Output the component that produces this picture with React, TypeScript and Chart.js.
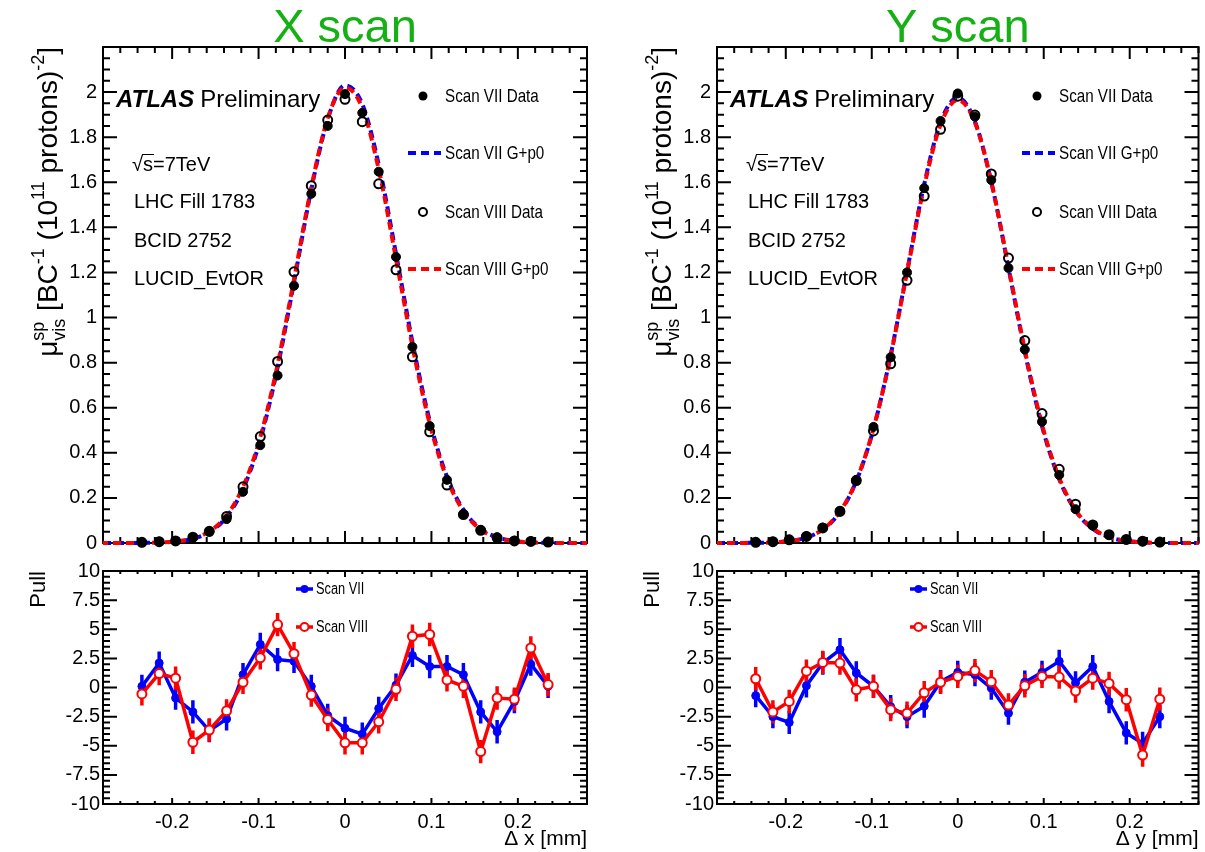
import React, { useEffect, useRef } from 'react';
import { Chart, registerables } from 'chart.js';

Chart.register(...registerables);

// ---------------- data ----------------
const SCAN_POS = [-0.235, -0.215, -0.196, -0.176, -0.157, -0.137, -0.118, -0.098, -0.078, -0.059, -0.039, -0.020, 0, 0.020, 0.039, 0.059, 0.078, 0.098, 0.118, 0.137, 0.157, 0.176, 0.196, 0.215, 0.235];

const X7_MU = [0.003, 0.006, 0.009, 0.024, 0.050, 0.106, 0.227, 0.434, 0.743, 1.141, 1.549, 1.850, 1.991, 1.908, 1.647, 1.269, 0.870, 0.519, 0.280, 0.128, 0.058, 0.025, 0.010, 0.008, 0.004];
const X8_MU = [0.003, 0.006, 0.009, 0.026, 0.052, 0.118, 0.249, 0.472, 0.805, 1.203, 1.585, 1.876, 1.968, 1.869, 1.593, 1.212, 0.826, 0.493, 0.257, 0.126, 0.056, 0.023, 0.009, 0.007, 0.004];
const Y7_MU = [0.003, 0.006, 0.015, 0.030, 0.068, 0.143, 0.280, 0.515, 0.824, 1.200, 1.574, 1.872, 1.994, 1.891, 1.610, 1.220, 0.858, 0.538, 0.302, 0.150, 0.077, 0.035, 0.015, 0.007, 0.003];
const Y8_MU = [0.003, 0.006, 0.014, 0.029, 0.067, 0.140, 0.277, 0.497, 0.795, 1.165, 1.539, 1.835, 1.982, 1.898, 1.637, 1.264, 0.898, 0.574, 0.327, 0.172, 0.080, 0.037, 0.016, 0.008, 0.004];

const FIT_POS = [-0.28, -0.26, -0.24, -0.22, -0.20, -0.18, -0.16, -0.14, -0.12, -0.10, -0.08, -0.06, -0.04, -0.02, 0, 0.02, 0.04, 0.06, 0.08, 0.10, 0.12, 0.14, 0.16, 0.18, 0.20, 0.22, 0.24, 0.26, 0.28];
const X7_FIT = [0, 0, 0.0005, 0.0015, 0.005, 0.015, 0.042, 0.102, 0.223, 0.431, 0.742, 1.136, 1.549, 1.879, 2.030, 1.947, 1.662, 1.263, 0.853, 0.513, 0.275, 0.131, 0.055, 0.021, 0.007, 0.002, 0.0005, 0, 0];
const X8_FIT = [0, 0, 0.0005, 0.0016, 0.0055, 0.016, 0.045, 0.108, 0.232, 0.443, 0.755, 1.148, 1.558, 1.884, 2.020, 1.930, 1.640, 1.240, 0.835, 0.500, 0.266, 0.126, 0.052, 0.019, 0.006, 0.0017, 0.0004, 0, 0];
const Y7_FIT = [0, 0, 0.0006, 0.002, 0.0068, 0.020, 0.052, 0.122, 0.256, 0.478, 0.797, 1.185, 1.574, 1.866, 1.975, 1.870, 1.585, 1.200, 0.812, 0.490, 0.265, 0.127, 0.055, 0.021, 0.007, 0.002, 0.0006, 0, 0];
const Y8_FIT = [0, 0, 0.0006, 0.002, 0.007, 0.020, 0.053, 0.124, 0.258, 0.480, 0.795, 1.180, 1.565, 1.855, 1.965, 1.865, 1.585, 1.205, 0.820, 0.497, 0.270, 0.130, 0.057, 0.022, 0.007, 0.002, 0.0006, 0, 0];

const X7_PULL = [0.1, 2.1, -0.9, -2.1, -3.7, -2.7, 1.1, 3.7, 2.4, 2.25, 0.1, -2.4, -3.5, -4.0, -1.8, 0.2, 2.75, 1.8, 1.8, 1.1, -2.1, -3.8, -1.2, 2.0, 0.1];
const X8_PULL = [-0.55, 1.2, 0.8, -4.7, -3.65, -2.0, 0.45, 2.55, 5.4, 2.9, -0.65, -2.75, -4.75, -4.75, -2.95, -0.15, 4.4, 4.55, 0.65, 0.1, -5.5, -0.9, -1.0, 3.4, 0.25];
const Y7_PULL = [-0.7, -2.5, -3.0, 0.15, 2.1, 3.25, 1.25, 0.1, -1.65, -2.5, -1.6, 0.5, 1.3, 1.1, -0.05, -2.2, 0.45, 1.3, 2.25, 0.4, 1.8, -1.2, -3.9, -4.8, -2.5];
const Y8_PULL = [0.75, -2.1, -1.2, 1.4, 2.15, 2.1, -0.2, 0.1, -1.9, -2.2, -0.45, 0.45, 0.95, 1.45, 0.5, -1.5, 0.15, 0.95, 0.9, -0.3, 0.8, 0.35, -1.05, -5.8, -1.0];
const PULL_ERR = 1;

const X_TICKS = [-0.2, -0.1, 0, 0.1, 0.2];
const MAIN_Y_TICKS = [0, 0.2, 0.4, 0.6, 0.8, 1, 1.2, 1.4, 1.6, 1.8, 2];
const PULL_Y_TICKS = [-10, -7.5, -5, -2.5, 0, 2.5, 5, 7.5, 10];

const INFO_LINES = ['LHC Fill 1783', 'BCID 2752', 'LUCID_EvtOR'];
const MAIN_LEGEND = ['Scan VII Data', 'Scan VII G+p0', 'Scan VIII Data', 'Scan VIII G+p0'];
const PULL_LEGEND = ['Scan VII', 'Scan VIII'];

// ---------------- layout constants ----------------
const FONT = '"Liberation Sans", Arial, Helvetica, sans-serif';
const FRAME_L = 103;
const FRAME_R = 587;
const MAIN_H = 556;
const MAIN_TOP = 47;
const MAIN_BOTTOM = 543;
const PULL_H = 296;
const PULL_TOP = 15;
const PULL_BOTTOM = 248;
const NARROW_SCALE = 0.8;
const BLUE = '#0000ff';
const RED = '#ff0000';
const GREEN = '#14b014';

function pts(xs: number[], ys: number[]) {
  return xs.map((x, i) => ({ x, y: ys[i] }));
}

function fmt(v: number) {
  return String(Math.round(v * 1000) / 1000);
}

function narrowText(ctx: any, t: string, x: number, y: number) {
  ctx.save();
  ctx.translate(x, y);
  ctx.scale(NARROW_SCALE, 1);
  ctx.fillText(t, 0, 0);
  ctx.restore();
}

function noPad(s: any) {
  s.paddingTop = 0;
  s.paddingBottom = 0;
  s.paddingLeft = 0;
  s.paddingRight = 0;
}

function frameTicks(cfg: any) {
  return {
    id: 'frameTicks',
    beforeDatasetsDraw(chart: any) {
      const { ctx, chartArea: a, scales } = chart;
      const xs = scales.x;
      const ys = scales.y;
      ctx.save();
      ctx.strokeStyle = '#000';
      ctx.lineWidth = 2;
      ctx.beginPath();
      const x0 = Math.ceil(xs.min / cfg.xMinor - 1e-6);
      for (let i = x0; i * cfg.xMinor <= xs.max + 1e-9; i++) {
        const v = i * cfg.xMinor;
        const r = v / cfg.xMajor;
        const maj = Math.abs(r - Math.round(r)) < 1e-6;
        const len = maj ? cfg.xMajLen : cfg.xMinLen;
        const px = xs.getPixelForValue(v);
        ctx.moveTo(px, a.bottom);
        ctx.lineTo(px, a.bottom - len);
        ctx.moveTo(px, a.top);
        ctx.lineTo(px, a.top + len);
      }
      const y0 = Math.ceil(ys.min / cfg.yMinor - 1e-6);
      for (let i = y0; i * cfg.yMinor <= ys.max + 1e-9; i++) {
        const v = i * cfg.yMinor;
        const r = v / cfg.yMajor;
        const maj = Math.abs(r - Math.round(r)) < 1e-6;
        const len = maj ? cfg.yMajLen : cfg.yMinLen;
        const py = ys.getPixelForValue(v);
        ctx.moveTo(a.left, py);
        ctx.lineTo(a.left + len, py);
        ctx.moveTo(a.right, py);
        ctx.lineTo(a.right - len, py);
      }
      ctx.stroke();
      ctx.lineWidth = 2;
      ctx.strokeRect(a.left, a.top, a.right - a.left, a.bottom - a.top);
      ctx.restore();
    },
  };
}

function drawRotatedRich(ctx: any, x: number, yEnd: number, segs: any[]) {
  ctx.save();
  ctx.translate(x, yEnd);
  ctx.rotate(-Math.PI / 2);
  ctx.fillStyle = '#000';
  ctx.textAlign = 'left';
  ctx.textBaseline = 'alphabetic';
  const widths = segs.map((s) => {
    let w = 0;
    for (const p of s) {
      ctx.font = `${p.size}px ${FONT}`;
      w = Math.max(w, ctx.measureText(p.t).width);
    }
    return w;
  });
  const total = widths.reduce((a, b) => a + b, 0);
  let cx = -total;
  segs.forEach((s, i) => {
    for (const p of s) {
      ctx.font = `${p.size}px ${FONT}`;
      ctx.fillText(p.t, cx, p.dy);
    }
    cx += widths[i];
  });
  ctx.restore();
}

function mainAnnotations(title: string) {
  return {
    id: 'mainAnn',
    afterDraw(chart: any) {
      const { ctx, chartArea: a } = chart;
      ctx.save();
      ctx.fillStyle = GREEN;
      ctx.font = `47px ${FONT}`;
      ctx.textAlign = 'center';
      ctx.textBaseline = 'alphabetic';
      ctx.fillText(title, (a.left + a.right) / 2, 42);

      ctx.fillStyle = '#000';
      ctx.textAlign = 'left';
      ctx.font = `italic bold 24px ${FONT}`;
      ctx.fillText('ATLAS', 116, 107);
      const w = ctx.measureText('ATLAS').width;
      ctx.font = `24px ${FONT}`;
      ctx.fillText('Preliminary', 116 + w + 6, 107);

      ctx.font = `20px ${FONT}`;
      ctx.fillText('\u221As=7TeV', 132, 171);
      const wr = ctx.measureText('\u221A').width;
      const ws = ctx.measureText('s').width;
      ctx.lineWidth = 1;
      ctx.strokeStyle = '#000';
      ctx.beginPath();
      ctx.moveTo(132 + wr - 1, 154.5);
      ctx.lineTo(132 + wr + ws + 1, 154.5);
      ctx.stroke();
      const infoY = [208, 247, 285];
      INFO_LINES.forEach((t, i) => ctx.fillText(t, 134, infoY[i]));

      // legend
      const legY = [96, 153, 212, 269];
      ctx.font = `19px ${FONT}`;
      ctx.textBaseline = 'middle';
      MAIN_LEGEND.forEach((t, i) => narrowText(ctx, t, 445, legY[i] + 1));
      ctx.fillStyle = '#000';
      ctx.beginPath();
      ctx.arc(423, legY[0], 4.5, 0, Math.PI * 2);
      ctx.fill();
      ctx.lineWidth = 2;
      ctx.beginPath();
      ctx.arc(423, legY[2], 4, 0, Math.PI * 2);
      ctx.stroke();
      ctx.lineWidth = 4;
      ctx.setLineDash([8, 5]);
      ctx.strokeStyle = BLUE;
      ctx.beginPath();
      ctx.moveTo(408, legY[1]);
      ctx.lineTo(441, legY[1]);
      ctx.stroke();
      ctx.strokeStyle = RED;
      ctx.beginPath();
      ctx.moveTo(408, legY[3]);
      ctx.lineTo(441, legY[3]);
      ctx.stroke();
      ctx.setLineDash([]);

      // y title
      const M = 28;
      const S = 18;
      drawRotatedRich(ctx, 57, a.top, [
        [{ t: '\u03BC', size: M, dy: 0 }],
        [{ t: 'vis', size: S, dy: 0.3 * M }, { t: 'sp', size: S, dy: -0.45 * M }],
        [{ t: ' [BC', size: M, dy: 0 }],
        [{ t: '-1', size: S, dy: -0.45 * M }],
        [{ t: ' (10', size: M, dy: 0 }],
        [{ t: '11', size: S, dy: -0.45 * M }],
        [{ t: ' protons)', size: M, dy: 0 }],
        [{ t: '-2', size: S, dy: -0.45 * M }],
        [{ t: ']', size: M, dy: 0 }],
      ]);
      ctx.restore();
    },
  };
}

function pullAnnotations(axisTitle: string, s7: number[], s8: number[]) {
  return {
    id: 'pullAnn',
    beforeDatasetsDraw(chart: any) {
      const { ctx, scales } = chart;
      ctx.save();
      ctx.lineWidth = 3.5;
      [[s7, BLUE], [s8, RED]].forEach(([vals, col]: any) => {
        ctx.strokeStyle = col;
        ctx.beginPath();
        SCAN_POS.forEach((x, i) => {
          const px = scales.x.getPixelForValue(x);
          ctx.moveTo(px, scales.y.getPixelForValue(vals[i] - PULL_ERR));
          ctx.lineTo(px, scales.y.getPixelForValue(vals[i] + PULL_ERR));
        });
        ctx.stroke();
      });
      ctx.restore();
    },
    afterDraw(chart: any) {
      const { ctx, chartArea: a } = chart;
      ctx.save();
      // legend
      const legY = [33, 71];
      const cols = [BLUE, RED];
      legY.forEach((y, i) => {
        ctx.strokeStyle = cols[i];
        ctx.lineWidth = 3.5;
        ctx.beginPath();
        ctx.moveTo(296, y);
        ctx.lineTo(313, y);
        ctx.stroke();
        ctx.beginPath();
        ctx.arc(304.5, y, 4, 0, Math.PI * 2);
        if (i === 0) {
          ctx.fillStyle = BLUE;
          ctx.fill();
        } else {
          ctx.fillStyle = '#fff';
          ctx.fill();
          ctx.lineWidth = 2;
          ctx.stroke();
        }
        ctx.fillStyle = '#000';
        ctx.font = `16px ${FONT}`;
        ctx.textAlign = 'left';
        ctx.textBaseline = 'middle';
        narrowText(ctx, PULL_LEGEND[i], 316, y + 1);
      });
      // axis titles
      ctx.fillStyle = '#000';
      ctx.font = `21px ${FONT}`;
      ctx.textAlign = 'right';
      ctx.textBaseline = 'alphabetic';
      ctx.fillText(axisTitle, a.right, 289);
      ctx.save();
      ctx.translate(45, a.top);
      ctx.rotate(-Math.PI / 2);
      ctx.font = `22px ${FONT}`;
      ctx.textAlign = 'right';
      ctx.fillText('Pull', 0, 0);
      ctx.restore();
      ctx.restore();
    },
  };
}

function mainConfig(width: number, title: string, mu7: number[], mu8: number[], fit7: number[], fit8: number[]): any {
  return {
    type: 'scatter',
    data: {
      datasets: [
        { data: pts(FIT_POS, fit7), showLine: true, borderColor: BLUE, borderWidth: 4, borderDash: [8, 5], pointRadius: 0, cubicInterpolationMode: 'monotone', clip: 8, order: 4 },
        { data: pts(FIT_POS, fit8), showLine: true, borderColor: RED, borderWidth: 4, borderDash: [8, 5], borderDashOffset: 3, pointRadius: 0, cubicInterpolationMode: 'monotone', clip: 8, order: 3 },
        { data: pts(SCAN_POS, mu8), showLine: false, pointRadius: 4.5, pointBackgroundColor: 'rgba(255,255,255,0)', pointBorderColor: '#000', pointBorderWidth: 2, clip: 8, order: 2 },
        { data: pts(SCAN_POS, mu7), showLine: false, pointRadius: 4.5, pointBackgroundColor: '#000', pointBorderColor: '#000', pointBorderWidth: 1, clip: 8, order: 1 },
      ],
    },
    options: {
      animation: false,
      responsive: false,
      maintainAspectRatio: false,
      events: [],
      layout: { padding: { top: MAIN_TOP, right: width - FRAME_R, bottom: MAIN_H - MAIN_BOTTOM, left: 0 } },
      scales: {
        x: { type: 'linear', min: -0.28, max: 0.28, display: false, afterFit: (s: any) => { noPad(s); s.height = 0; } },
        y: {
          type: 'linear',
          min: 0,
          max: 2.2,
          grid: { display: false, drawTicks: false },
          border: { display: false },
          ticks: { font: { family: FONT, size: 20 }, color: '#000', padding: 6, callback: (v: number) => fmt(v) },
          afterBuildTicks: (s: any) => { s.ticks = MAIN_Y_TICKS.map((v) => ({ value: v })); },
          afterFit: (s: any) => { noPad(s); s.width = FRAME_L; },
        },
      },
      plugins: { legend: { display: false }, tooltip: { enabled: false }, title: { display: false } },
    },
    plugins: [
      frameTicks({ xMinor: 0.02, xMajor: 0.1, xMajLen: 12, xMinLen: 6, yMinor: 0.05, yMajor: 0.2, yMajLen: 14, yMinLen: 7 }),
      mainAnnotations(title),
    ],
  };
}

function pullConfig(width: number, axisTitle: string, p7: number[], p8: number[]): any {
  return {
    type: 'scatter',
    data: {
      datasets: [
        { data: pts(SCAN_POS, p7), showLine: true, borderColor: BLUE, borderWidth: 3.5, tension: 0, pointRadius: 4, pointBackgroundColor: BLUE, pointBorderColor: BLUE, pointBorderWidth: 1, clip: 6, order: 2 },
        { data: pts(SCAN_POS, p8), showLine: true, borderColor: RED, borderWidth: 3.5, tension: 0, pointRadius: 4.5, pointBackgroundColor: '#fff', pointBorderColor: RED, pointBorderWidth: 2, clip: 6, order: 1 },
      ],
    },
    options: {
      animation: false,
      responsive: false,
      maintainAspectRatio: false,
      events: [],
      layout: { padding: { top: PULL_TOP, right: width - FRAME_R, bottom: 0, left: 0 } },
      scales: {
        x: {
          type: 'linear',
          min: -0.28,
          max: 0.28,
          grid: { display: false, drawTicks: false },
          border: { display: false },
          ticks: { font: { family: FONT, size: 20 }, color: '#000', padding: 6, maxRotation: 0, callback: (v: number) => fmt(v) },
          afterBuildTicks: (s: any) => { s.ticks = X_TICKS.map((v) => ({ value: v })); },
          afterFit: (s: any) => { noPad(s); s.height = PULL_H - PULL_BOTTOM; },
        },
        y: {
          type: 'linear',
          min: -10,
          max: 10,
          grid: { display: false, drawTicks: false },
          border: { display: false },
          ticks: { font: { family: FONT, size: 20 }, color: '#000', padding: 3, callback: (v: number) => fmt(v) },
          afterBuildTicks: (s: any) => { s.ticks = PULL_Y_TICKS.map((v) => ({ value: v })); },
          afterFit: (s: any) => { noPad(s); s.width = FRAME_L; },
        },
      },
      plugins: { legend: { display: false }, tooltip: { enabled: false }, title: { display: false } },
    },
    plugins: [
      frameTicks({ xMinor: 0.02, xMajor: 0.1, xMajLen: 6, xMinLen: 3, yMinor: 0.5, yMajor: 2.5, yMajLen: 14, yMinLen: 7 }),
      pullAnnotations(axisTitle, p7, p8),
    ],
  };
}

function Panel(props: { ox: number; width: number; title: string; axisTitle: string; mu7: number[]; mu8: number[]; fit7: number[]; fit8: number[]; p7: number[]; p8: number[] }) {
  const mainRef = useRef<HTMLCanvasElement>(null);
  const pullRef = useRef<HTMLCanvasElement>(null);
  useEffect(() => {
    const c1 = new Chart(mainRef.current as HTMLCanvasElement, mainConfig(props.width, props.title, props.mu7, props.mu8, props.fit7, props.fit8));
    const c2 = new Chart(pullRef.current as HTMLCanvasElement, pullConfig(props.width, props.axisTitle, props.p7, props.p8));
    return () => {
      c1.destroy();
      c2.destroy();
    };
  }, []);
  return (
    <>
      <canvas ref={mainRef} width={props.width} height={MAIN_H} style={{ position: 'absolute', left: props.ox, top: 0, width: props.width, height: MAIN_H }} />
      <canvas ref={pullRef} width={props.width} height={PULL_H} style={{ position: 'absolute', left: props.ox, top: MAIN_H, width: props.width, height: PULL_H }} />
    </>
  );
}

export default function App() {
  return (
    <div style={{ position: 'absolute', left: 0, top: 0, width: 1205, height: 852, background: '#fff', overflow: 'hidden' }}>
      <Panel ox={0} width={614} title="X scan" axisTitle={'\u0394 x [mm]'} mu7={X7_MU} mu8={X8_MU} fit7={X7_FIT} fit8={X8_FIT} p7={X7_PULL} p8={X8_PULL} />
      <Panel ox={614} width={591} title="Y scan" axisTitle={'\u0394 y [mm]'} mu7={Y7_MU} mu8={Y8_MU} fit7={Y7_FIT} fit8={Y8_FIT} p7={Y7_PULL} p8={Y8_PULL} />
    </div>
  );
}
